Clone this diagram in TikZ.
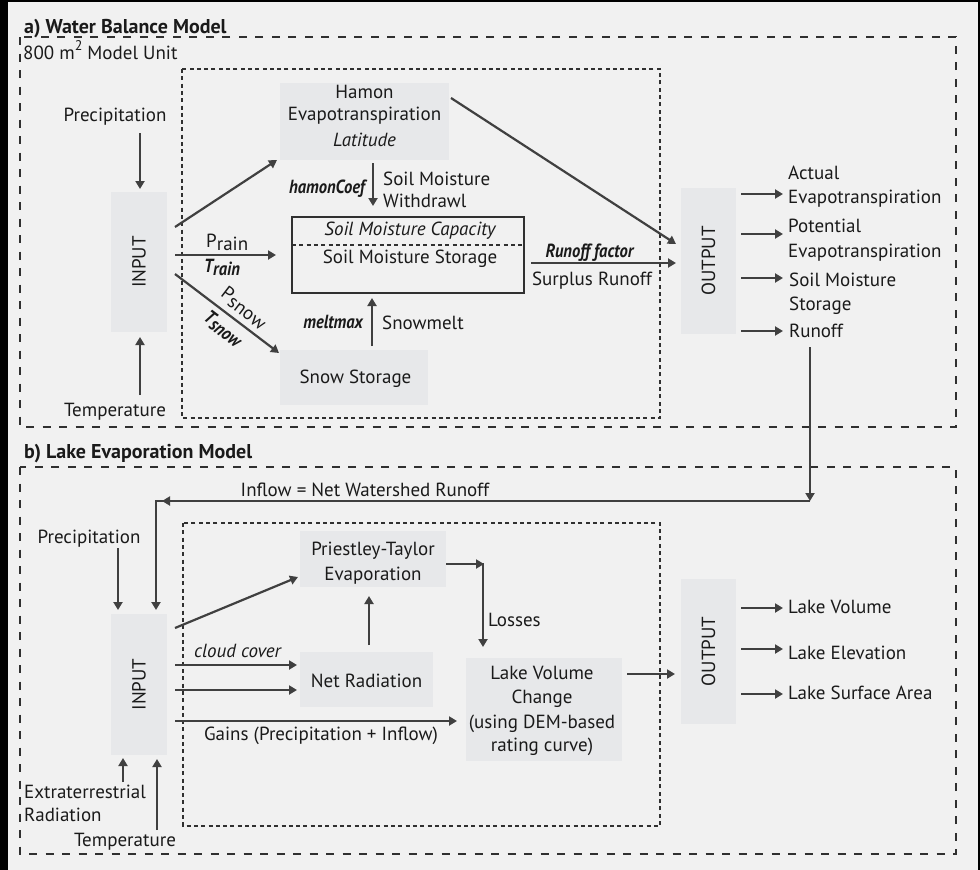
\documentclass[tikz,border=0pt]{standalone}
\usepackage{fontspec}
\setmainfont{PT Sans}
\usetikzlibrary{arrows.meta}
\definecolor{bgc}{HTML}{F1F1F1}
\definecolor{boxc}{HTML}{E7E8EA}
\definecolor{lc}{HTML}{404040}
\definecolor{dc}{HTML}{303030}
\definecolor{tc}{HTML}{1A1A1A}
\newcommand{\bic}[1]{\scalebox{0.87}[1]{\bfseries\itshape #1}}
\begin{document}
\begin{tikzpicture}[x=1pt,y=-1pt,
  font=\fontsize{19}{23}\selectfont,
  arr/.style={draw=lc, line width=2.2pt, -{Triangle[length=8pt,width=9pt]}},
  odash/.style={draw=dc, line width=1.3pt, dash pattern=on 8pt off 8.5pt},
  idash/.style={draw=dc, line width=1.2pt, dash pattern=on 4pt off 3.3pt},
  gbox/.style={fill=boxc, draw=none, inner sep=0pt},
  t/.style={inner sep=0pt, anchor=base, text=tc},
  tl/.style={t, anchor=base west},
  tr/.style={t, anchor=base east},
  rt/.style={inner sep=0pt, text=tc, rotate=90, anchor=center},
  ttl/.style={tl, font=\fontsize{20}{24}\selectfont\bfseries}
]
\fill[black] (0,0) rectangle (980,870);
\fill[bgc] (8,2) rectangle (978,870);
\useasboundingbox (0,0) rectangle (980,870);

% ---------- frames ----------
\draw[odash] (20,37) rectangle (956,427);
\draw[idash] (182,69) rectangle (660,418);
\draw[odash] (20,467) rectangle (956,854);
\draw[idash] (183,523) rectangle (660,826);

\node[ttl] (titleA) at (24,33.5) {a) Water Balance Model};
\node[tl] (unit) at (23,59.5) {800 m\raisebox{0.45em}{\fontsize{14}{14}\selectfont 2} Model Unit};
\node[ttl] (titleB) at (24,458.5) {b) Lake Evaporation Model};

% ---------- part a boxes ----------
\node[gbox, minimum width=56pt, minimum height=140pt] (inA) at (139,262) {};
\node[rt] (inAt) at (139,262) {INPUT};
\node[gbox, minimum width=169pt, minimum height=77pt] (hamon) at (364.5,121.5) {};
\node[t] (hamon1) at (364.5,98) {Hamon};
\node[t] (hamon2) at (364.5,120.5) {Evapotranspiration};
\node[t] (hamon3) at (364.5,146.5) {\itshape Latitude};
\node[draw=dc, line width=1.4pt, minimum width=232pt, minimum height=76pt, inner sep=0pt] (smb) at (408,255) {};
\coordinate (smL) at (292,245);
\coordinate (smR) at (524,245);
\draw[idash] (smL) -- (smR);
\node[t] (smcap) at (410,235.5) {\itshape Soil Moisture Capacity};
\node[t] (smsto) at (410,263.5) {Soil Moisture Storage};
\node[gbox, minimum width=148pt, minimum height=55pt] (snow) at (354,377.5) {};
\node[t] (snowt) at (355.5,383.5) {Snow Storage};
\node[gbox, minimum width=55pt, minimum height=146pt] (outA) at (708.5,261) {};
\node[rt] (outAt) at (708.5,261) {OUTPUT};

% ---------- part a texts ----------
\node[t] (precA) at (115,121.5) {Precipitation};
\node[t] (tempA) at (115,416.5) {Temperature};
\node[tr] (hcoef) at (365,193.5) {\bic{hamonCoef}};
\node[tl] (smw1) at (383,185) {Soil Moisture};
\node[tl] (smw2) at (383,207) {Withdrawl};
\node[tl] (prain) at (206,247) {P\raisebox{-3pt}{rain}};
\node[tl] (train) at (204,272) {\bic{T\raisebox{-3pt}{rain}}};
\node[rotate=-37.5, inner sep=0pt, text=tc] (psnow) at (244,308) {P\raisebox{-3pt}{snow}};
\node[rotate=-37.5, inner sep=0pt, text=tc] (tsnow) at (223,329) {\bic{T\raisebox{-3pt}{snow}}};
\node[tr] (melt) at (363,328) {\bic{meltmax}};
\node[tl] (smelt) at (382,329.5) {Snowmelt};
\node[t] (rfac) at (589.5,257) {\bic{Runoff factor}};
\node[t] (surp) at (592,285) {Surplus Runoff};
\node[tl] (oa1) at (788,179) {Actual};
\node[tl] (oa2) at (788,203) {Evapotranspiration};
\node[tl] (oa3) at (788,232.5) {Potential};
\node[tl] (oa4) at (788,257.5) {Evapotranspiration};
\node[tl] (oa5) at (789,286) {Soil Moisture};
\node[tl] (oa6) at (789,310.5) {Storage};
\node[tl] (oa7) at (789,337.5) {Runoff};

% ---------- part a arrows ----------
\coordinate (a1s) at (140,133); \coordinate (a1e) at (140,189);
\draw[arr] (a1s) -- (a1e);
\coordinate (a2s) at (140,395); \coordinate (a2e) at (140,337);
\draw[arr] (a2s) -- (a2e);
\coordinate (a3s) at (175,227); \coordinate (a3e) at (277,160);
\draw[arr] (a3s) -- (a3e);
\coordinate (a4s) at (175,255); \coordinate (a4e) at (276,255);
\draw[arr] (a4s) -- (a4e);
\coordinate (a5s) at (175,274); \coordinate (a5e) at (279,353);
\draw[arr] (a5s) -- (a5e);
\coordinate (a6s) at (373,163); \coordinate (a6e) at (373,206);
\draw[arr] (a6s) -- (a6e);
\coordinate (a7s) at (372,346); \coordinate (a7e) at (372,298);
\draw[arr] (a7s) -- (a7e);
\coordinate (a8s) at (531,263); \coordinate (a8e) at (676,263);
\draw[arr] (a8s) -- (a8e);
\coordinate (a9s) at (451,98); \coordinate (a9e) at (676,244);
\draw[arr] (a9s) -- (a9e);
\foreach \yy/\nm in {194/o1,234/o2,278/o3,331/o4}{
  \coordinate (\nm s) at (741,\yy); \coordinate (\nm e) at (783,\yy);
  \draw[arr] (\nm s) -- (\nm e);
}
\coordinate (rdS) at (810,347); \coordinate (rdE) at (810,501);
\draw[arr] (rdS) -- (rdE);

% ---------- part b boxes ----------
\node[gbox, minimum width=56pt, minimum height=141pt] (inB) at (139,684.5) {};
\node[rt] (inBt) at (139,684.5) {INPUT};
\node[gbox, minimum width=146pt, minimum height=56pt] (pt) at (373,559) {};
\node[t] (pt1) at (373,555) {Priestley-Taylor};
\node[t] (pt2) at (373,580) {Evaporation};
\node[gbox, minimum width=133pt, minimum height=55pt] (nr) at (366.5,679.5) {};
\node[t] (nrt) at (366.5,687) {Net Radiation};
\node[gbox, minimum width=156pt, minimum height=103pt] (lvc) at (544,709.5) {};
\node[t] (lvc1) at (542,679.5) {Lake Volume};
\node[t] (lvc2) at (542,703) {Change};
\node[t] (lvc3) at (542,728) {(using DEM-based};
\node[t] (lvc4) at (542,751.5) {rating curve)};
\node[gbox, minimum width=55pt, minimum height=145pt] (outB) at (708.5,651.5) {};
\node[rt] (outBt) at (708.5,651.5) {OUTPUT};

% ---------- part b texts ----------
\node[t] (inflow) at (365,496) {Inflow = Net Watershed Runoff};
\node[t] (precB) at (89,543) {Precipitation};
\node[tl] (extra1) at (24,798) {Extraterrestrial};
\node[tl] (extra2) at (24,821.5) {Radiation};
\node[t] (tempB) at (125,846) {Temperature};
\node[t] (cloud) at (237.5,657) {\itshape cloud cover};
\node[t] (gains) at (321,740.5) {Gains (Precipitation + Inflow)};
\node[tl] (loss) at (488,626) {Losses};
\node[tl] (ob1) at (788,613.5) {Lake Volume};
\node[tl] (ob2) at (788,659) {Lake Elevation};
\node[tl] (ob3) at (788,699) {Lake Surface Area};

% ---------- part b arrows ----------
\coordinate (i1) at (810,501); \coordinate (i2) at (162,501);
\draw[arr] (i1) -- (i2);
\coordinate (i3) at (168,501); \coordinate (i4) at (156,501); \coordinate (i5) at (156,610);
\draw[arr] (i3) -- (i4) -- (i5);
\coordinate (b1s) at (118,548); \coordinate (b1e) at (118,610);
\draw[arr] (b1s) -- (b1e);
\coordinate (b2s) at (123,782); \coordinate (b2e) at (123,758);
\draw[arr] (b2s) -- (b2e);
\coordinate (b3s) at (157,830); \coordinate (b3e) at (157,759);
\draw[arr] (b3s) -- (b3e);
\coordinate (b4s) at (175,628); \coordinate (b4e) at (298,577);
\draw[arr] (b4s) -- (b4e);
\coordinate (b5s) at (175,665); \coordinate (b5e) at (297,665);
\draw[arr] (b5s) -- (b5e);
\coordinate (b6s) at (175,690); \coordinate (b6e) at (297,690);
\draw[arr] (b6s) -- (b6e);
\coordinate (b7s) at (175,721); \coordinate (b7e) at (457,721);
\draw[arr] (b7s) -- (b7e);
\coordinate (b8s) at (369,645); \coordinate (b8e) at (369,596);
\draw[arr] (b8s) -- (b8e);
\coordinate (b9s) at (446,564); \coordinate (b9e) at (484,564);
\draw[arr] (b9s) -- (b9e);
\coordinate (b10s) at (483,563); \coordinate (b10e) at (483,647);
\draw[arr] (b10s) -- (b10e);
\coordinate (b11s) at (627,674); \coordinate (b11e) at (675,674);
\draw[arr] (b11s) -- (b11e);
\foreach \yy/\nm in {608/q1,649/q2,694/q3}{
  \coordinate (\nm s) at (741,\yy); \coordinate (\nm e) at (783,\yy);
  \draw[arr] (\nm s) -- (\nm e);
}
\end{tikzpicture}
\end{document}
